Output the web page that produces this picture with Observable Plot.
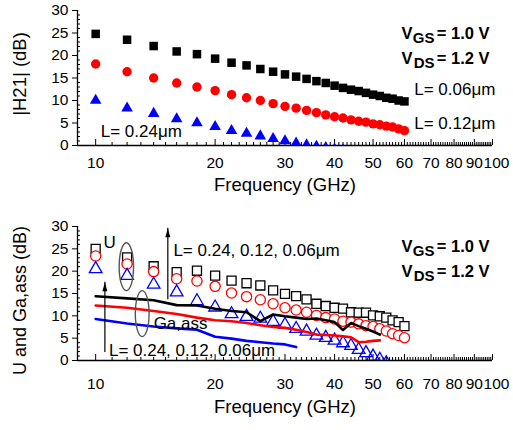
<!DOCTYPE html>
<html><head><meta charset="utf-8">
<script src="https://cdn.jsdelivr.net/npm/d3@7"></script>
<script src="https://cdn.jsdelivr.net/npm/@observablehq/plot@0.6"></script>
<style>
body{margin:0;background:#fff;}
#chart{width:513px;}
#chart svg{display:block;}
</style></head><body><div id="chart"></div>
<script>
// ---- data ----
const freq = [10,12,14,16,18,20,22,24,26,28,30,32,34,36,38,40,42,44,46,48,50,52,54,56,58,60];
// |H21| (dB)
const h21_006 = [24.8,23.5,22.1,20.9,20.3,19.3,18.4,17.8,17.0,16.4,15.8,15.3,14.8,14.3,13.9,13.3,12.8,12.4,12.1,11.7,11.3,11.0,10.6,10.4,10.0,9.8];
const h21_012 = [18.1,16.4,15.0,13.9,13.0,12.2,11.3,10.6,10.0,9.3,8.7,8.3,7.8,7.3,6.8,6.4,6.1,5.7,5.4,5.2,4.8,4.6,4.3,4.1,3.7,3.3];
const h21_024 = [10.0,8.3,7.1,5.9,5.0,4.2,3.3,2.7,2.1,1.5,1.0,0.5,0.1,-0.2,-0.5,-0.8,-1.0];
// U (dB)
const u_006 = [25.0,23.1,21.1,19.8,20.1,19.0,17.9,17.3,16.8,15.7,14.9,14.4,13.7,12.7,12.2,11.8,11.6,10.8,10.7,10.7,10.1,9.9,9.6,9.0,8.6,7.7];
const u_012 = [23.4,21.6,19.9,18.3,17.8,16.6,15.1,14.3,13.6,12.7,11.8,11.3,10.8,10.1,9.6,9.3,8.8,8.6,8.2,7.8,7.6,7.1,6.6,6.0,5.6,5.1];
const u_024 = [20.5,19.0,17.0,15.3,13.3,11.9,10.4,9.8,9.4,8.7,8.0,7.1,6.5,5.6,5.1,4.5,3.9,3.3,2.4,1.7,0.9,0.2,-0.6];
// Ga,ass (dB)
const ga_006 = [14.4,13.9,13.5,12.4,12.3,11.6,11.1,10.8,8.8,10.3,9.9,9.6,9.3,9.4,9.0,8.6,6.8,8.4,7.7,7.1,6.5,5.8];
const ga_012 = [12.3,11.8,11.1,10.4,9.6,9.0,8.8,8.4,7.9,7.5,7.3,6.9,6.4,5.8,5.7,5.6,5.4,5.2,4.1,4.2,4.4,4.5];
const ga_024 = [9.3,8.3,7.6,7.2,6.9,5.3,4.9,4.4,4.1,3.8,3.6,3.0];
// tick labels
const xTicks = [10,20,30,40,50,60,70,80,90,100];
const yTicks = [0,5,10,15,20,25,30];
// texts
const biasText = ["V", "GS", "= 1.0 V", "V", "DS", "= 1.2 V"];
const labelTop = ["L= 0.24\u03bcm", "L= 0.06\u03bcm", "L= 0.12\u03bcm"];
const labelBot = ["U", "L= 0.24, 0.12, 0.06\u03bcm", "Ga,ass"];

const rows = (ys) => ys.map((v, i) => ({f: freq[i], v}));
const font = "'Liberation Sans', Arial, Helvetica, sans-serif";
const W = 513, ML = 77, MR = 21;
const innerW = W - ML - MR;
const xMinor = d3.range(9, 101).filter(d => d % 10 !== 0);
const yMinor = d3.range(0, 31).filter(d => d % 5 !== 0);
const TICKFS = 15.5;

function frame(innerH, pad) {
  return [
    Plot.ruleX([9], {strokeWidth: 1.3}),
    Plot.ruleY([0], {strokeWidth: 1.3}),
    Plot.axisY({ticks: yTicks, tickSize: 5, tickPadding: 4, fontSize: TICKFS, label: null}),
    Plot.tickY(yMinor, {y: d => d, insetRight: innerW - 3}),
    Plot.axisX({ticks: xTicks.slice(0, -1), tickFormat: d => String(d), tickSize: 0, tickPadding: pad, fontSize: TICKFS, label: null}),
    Plot.axisX({ticks: xTicks.slice(-1), tickFormat: d => String(d), tickSize: 0, tickPadding: pad, fontSize: TICKFS, label: null, dx: 4}),
    Plot.tickX(xTicks, {x: d => d, insetTop: innerH - 6}),
    Plot.tickX(xMinor, {x: d => d, insetTop: innerH - 3})
  ];
}

function bias(dyTop) {
  const base = {frameAnchor: "top-right", textAnchor: "end", fontWeight: "bold", text: d => d};
  return [
    Plot.text([biasText[0]], {...base, dx: -80, dy: dyTop, fontSize: 16.5}),
    Plot.text([biasText[1]], {...base, dx: -58, dy: dyTop + 5, fontSize: 15}),
    Plot.text([biasText[2]], {...base, dx: -3, dy: dyTop, fontSize: 16.5}),
    Plot.text([biasText[3]], {...base, dx: -80, dy: dyTop + 25, fontSize: 16.5}),
    Plot.text([biasText[4]], {...base, dx: -58, dy: dyTop + 30, fontSize: 15}),
    Plot.text([biasText[5]], {...base, dx: -3, dy: dyTop + 25, fontSize: 16.5})
  ];
}

const ellipse = {
  draw(ctx, size) {
    const ry = Math.sqrt(size / Math.PI), rx = ry * 0.3, k = 0.5523;
    ctx.moveTo(rx, 0);
    ctx.bezierCurveTo(rx, k * ry, k * rx, ry, 0, ry);
    ctx.bezierCurveTo(-k * rx, ry, -rx, k * ry, -rx, 0);
    ctx.bezierCurveTo(-rx, -k * ry, -k * rx, -ry, 0, -ry);
    ctx.bezierCurveTo(k * rx, -ry, rx, -k * ry, rx, 0);
    ctx.closePath();
  }
};
// narrow filled arrowhead, tip at the anchor point
const arrowHead = {
  draw(ctx, size) {
    const r = Math.sqrt(size / Math.PI);
    ctx.moveTo(0, 0);
    ctx.lineTo(-0.55 * r, 2 * r);
    ctx.lineTo(0.55 * r, 2 * r);
    ctx.closePath();
  }
};

function upArrow(x, y1, y2) {
  return [
    Plot.ruleX([x], {y1, y2, stroke: "black", strokeWidth: 1.2}),
    Plot.dot([x], {x: d => d, y: y2, r: 4.5, symbol: arrowHead, fill: "black", stroke: "none"})
  ];
}

const style = {fontFamily: font, fontSize: "15px", color: "black", background: "white", overflow: "visible"};

// ---- top chart ----
const topH = 205, topMT = 10, topMB = 60;
const chartTop = Plot.plot({
  width: W, height: topH, marginLeft: ML, marginRight: MR, marginTop: topMT, marginBottom: topMB,
  style,
  x: {type: "log", domain: [9, 100]},
  y: {domain: [0, 30]},
  marks: [
    ...frame(topH - topMT - topMB, 11),
    Plot.dot(rows(h21_006), {x: "f", y: "v", symbol: "square", r: 4.8, fill: "black", clip: true}),
    Plot.dot(rows(h21_012), {x: "f", y: "v", symbol: "circle", r: 4.7, fill: "#ff0000", clip: true}),
    Plot.dot(rows(h21_024), {x: "f", y: "v", symbol: "triangle", r: 4.3, fill: "#0000ff", clip: true}),
    Plot.text([labelTop[0]], {x: 10.3, y: 3.0, text: d => d, textAnchor: "start", fontSize: 17}),
    Plot.text([labelTop[1]], {x: 63.5, y: 12.4, text: d => d, textAnchor: "start", fontSize: 17}),
    Plot.text([labelTop[2]], {x: 63.5, y: 4.8, text: d => d, textAnchor: "start", fontSize: 17}),
    ...bias(17),
    Plot.text(["Frequency (GHz)"], {frameAnchor: "bottom", dy: 45, text: d => d, fontSize: 18.5}),
    Plot.text(["|H21| (dB)"], {frameAnchor: "left", textAnchor: "middle", dx: -57, dy: -4, rotate: -90, text: d => d, fontSize: 18.5})
  ]
});

// ---- bottom chart ----
const botH = 225, botMT = 21, botMB = 70;
const chartBot = Plot.plot({
  width: W, height: botH, marginLeft: ML, marginRight: MR, marginTop: botMT, marginBottom: botMB,
  style,
  x: {type: "log", domain: [9, 100]},
  y: {domain: [0, 30]},
  marks: [
    ...frame(botH - botMT - botMB, 17),
    Plot.dot(rows(u_006), {x: "f", y: "v", symbol: "square", r: 5.1, stroke: "black", fill: "white", strokeWidth: 1.3, clip: true}),
    Plot.dot(rows(u_012), {x: "f", y: "v", symbol: "circle", r: 5.1, stroke: "#ff0000", fill: "white", strokeWidth: 1.3, clip: true}),
    Plot.dot(rows(u_024), {x: "f", y: "v", symbol: "triangle", r: 4.7, stroke: "#0000ff", fill: "none", strokeWidth: 1.3, clip: true}),
    Plot.line(rows(ga_006), {x: "f", y: "v", stroke: "black", strokeWidth: 2.6}),
    Plot.line(rows(ga_012), {x: "f", y: "v", stroke: "#ff0000", strokeWidth: 2.6}),
    Plot.line(rows(ga_024), {x: "f", y: "v", stroke: "#0000ff", strokeWidth: 2.6}),
    Plot.dot([0], {x: 11.95, y: 21.0, r: 24, symbol: ellipse, fill: "none", stroke: "#555", strokeWidth: 1.4}),
    Plot.dot([0], {x: 13.1, y: 10.5, r: 23, symbol: ellipse, fill: "none", stroke: "#555", strokeWidth: 1.4}),
    ...upArrow(15.2, 13.6, 29.6),
    ...upArrow(10.55, 1.8, 17.5),
    Plot.text([labelBot[0]], {x: 10.84, y: 26.3, text: d => d, fontSize: 17}),
    Plot.text([labelBot[1]], {x: 15.7, y: 24.6, text: d => d, textAnchor: "start", fontSize: 17}),
    Plot.text([labelBot[2]], {x: 14.0, y: 8.2, text: d => d, textAnchor: "start", fontSize: 17}),
    Plot.text([labelBot[1]], {x: 10.8, y: 2.2, text: d => d, textAnchor: "start", fontSize: 17}),
    ...bias(14),
    Plot.text(["Frequency (GHz)"], {frameAnchor: "bottom", dy: 52, text: d => d, fontSize: 18.5}),
    Plot.text(["U and Ga,ass (dB)"], {frameAnchor: "left", textAnchor: "middle", dx: -57, dy: 7, rotate: -90, text: d => d, fontSize: 18})
  ]
});

const el = document.getElementById("chart");
el.appendChild(chartTop);
el.appendChild(chartBot);
</script></body></html>
